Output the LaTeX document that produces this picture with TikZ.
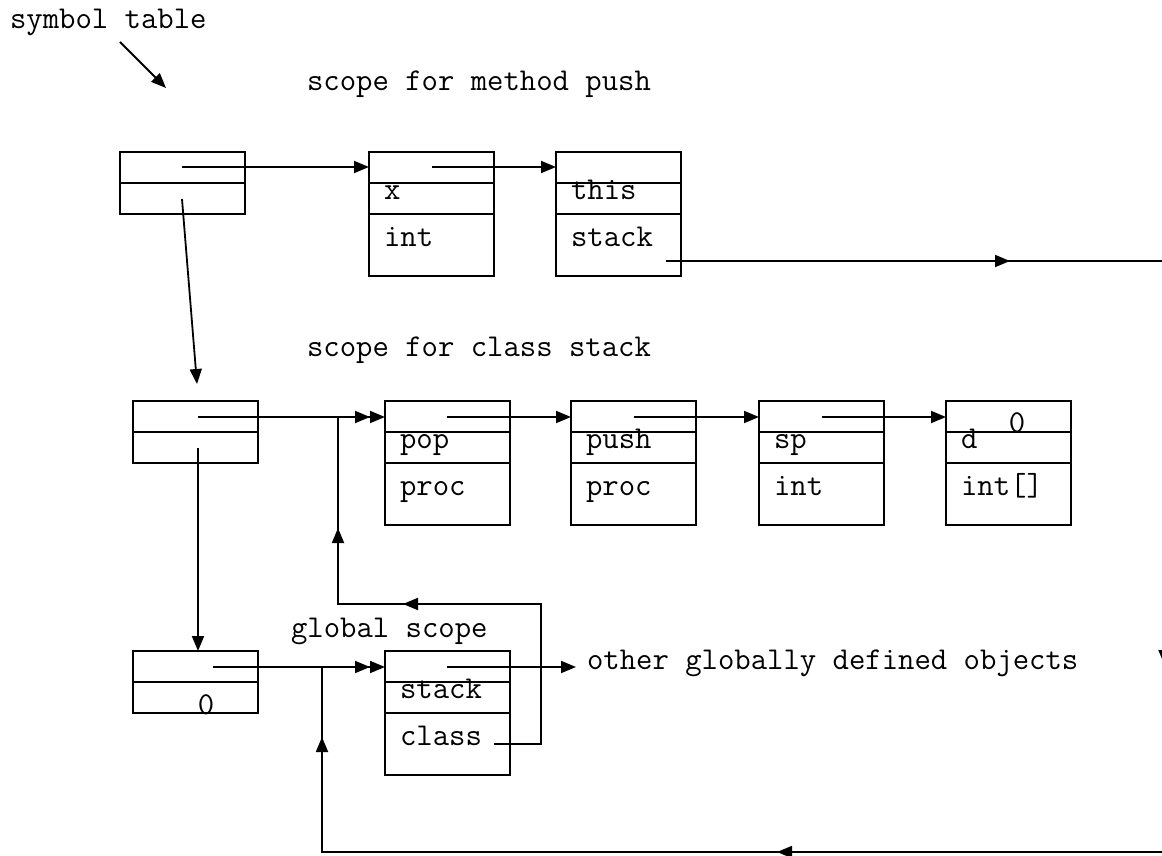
\documentclass[tikz,border=0pt]{standalone}
\usepackage{fontspec}
\usetikzlibrary{arrows.meta,decorations.markings}

% typewriter face used for every label
\newcommand\labelfont{\ttfamily\fontsize{31.8}{31.8}\selectfont}

% a scope record: two cells (first entry, enclosing scope)
\newcommand\scopecell[3]{%
  \node[twocell] (#1) at (#2,#3) {};
  \draw[ptr] ([yshift=-31pt]#1.north west) -- ([yshift=-31pt]#1.north east);
}

% a symbol entry: next pointer, identifier, type
\newcommand\symentry[5]{%
  \node[fourcell] (#1) at (#2,#3) {};
  \draw[ptr] ([yshift=-31pt]#1.north west) -- ([yshift=-31pt]#1.north east);
  \draw[ptr] ([yshift=-62pt]#1.north west) -- ([yshift=-62pt]#1.north east);
  \node[txt] (#1-id) at ([shift={(15pt,-47pt)}]#1.north west) {#4};
  \node[txt] (#1-ty) at ([shift={(15pt,-94pt)}]#1.north west) {#5};
}

\begin{document}
\begin{tikzpicture}[x=1pt,y=-1pt,
  >={Triangle[length=15pt,width=12pt]},
  every node/.style={inner sep=0pt, outer sep=0pt},
  rec/.style={draw, line width=1.8pt, minimum width=125pt, anchor=north west},
  twocell/.style={rec, minimum height=62pt},
  fourcell/.style={rec, minimum height=124pt},
  txt/.style={font=\labelfont, anchor=base west},
  nulltxt/.style={font=\labelfont, anchor=base},
  ptr/.style={line width=1.8pt},
  dbl/.style={-{Triangle[length=15pt,width=12pt]Triangle[length=15pt,width=12pt]}},
  midtip/.style={postaction={decorate, decoration={markings,
      mark=at position #1 with {\arrow{>}}}}}
]
\clip (0,0) rectangle (1162,856);

% captions
\node[txt] (cap-st)   at (10,29)   {symbol table};
\node[txt] (cap-push) at (307,91)  {scope for method push};
\node[txt] (cap-cls)  at (307,356) {scope for class stack};
\node[txt] (cap-glob) at (291,637) {global scope};
\node[txt] (cap-other) at (587,669) {other globally defined objects};

% scope records of the symbol table stack
\scopecell{A}{120}{152}
\scopecell{B}{133}{401}
\scopecell{C}{133}{651}
\node[nulltxt] (C-null) at (206,714) {0};

% entries of the method scope
\symentry{X}{369}{152}{x}{int}
\symentry{THIS}{556}{152}{this}{stack}

% entries of the class scope
\symentry{POP}{385}{401}{pop}{proc}
\symentry{PUSH}{571}{401}{push}{proc}
\symentry{SP}{759}{401}{sp}{int}
\symentry{D}{946}{401}{d}{int[]}
\node[nulltxt] (D-null) at (1017,432) {0};

% entries of the global scope
\symentry{G}{385}{651}{stack}{class}

% pointer origins and bends
\coordinate (st-from) at (120,42);
\coordinate (st-to)   at (166,88);
\coordinate (A-next)  at (182,167);
\coordinate (A-down)  at (182,199);
\coordinate (B-in)    at (197,384);
\coordinate (X-next)  at (432,167);
\coordinate (THIS-val) at (666,261);
\coordinate (B-next)  at (198,417);
\coordinate (B-down)  at (198,448);
\coordinate (POP-next) at (447,417);
\coordinate (PUSH-next) at (634,417);
\coordinate (SP-next) at (822,417);
\coordinate (C-next)  at (213,667);
\coordinate (G-next)  at (447,667);
\coordinate (G-out)   at (576,667);
\coordinate (G-class) at (494,744);
\coordinate (loopR)   at (541,604);
\coordinate (joinHigh) at (338,417);
\coordinate (eastTop) at (1164.5,261);
\coordinate (eastLow) at (1164.5,852);
\coordinate (joinLow) at (322,667);

% symbol table pointer
\draw[ptr,->] (st-from) -- (st-to);

% method scope chain
\draw[ptr,->] (A-next) -- (X.west |- A-next);
\draw[ptr,->] (X-next) -- (THIS.west |- X-next);
\draw[ptr,->] (A-down) -- (B-in);

% class scope chain
\draw[ptr,dbl] (B-next) -- (POP.west |- B-next);
\draw[ptr,->] (POP-next) -- (PUSH.west |- POP-next);
\draw[ptr,->] (PUSH-next) -- (SP.west |- PUSH-next);
\draw[ptr,->] (SP-next) -- (D.west |- SP-next);
\draw[ptr,->] (B-down) -- (C.north -| B-down);

% global scope chain
\draw[ptr,dbl] (C-next) -- (G.west |- C-next);
\draw[ptr,->] (G-next) -- (G-out);

% class entry refers back to the class scope
\draw[ptr, midtip=325pt, midtip=466pt]
  (G-class) -| (loopR) -- (loopR -| joinHigh) -- (joinHigh);

% type of "this" refers back to the global entry
\draw[ptr, midtip=344pt, midtip=902.5pt, midtip=1477pt, midtip=2047pt]
  (THIS-val) -- (eastTop) -- (eastLow) -- (eastLow -| joinLow) -- (joinLow);
\end{tikzpicture}
\end{document}
